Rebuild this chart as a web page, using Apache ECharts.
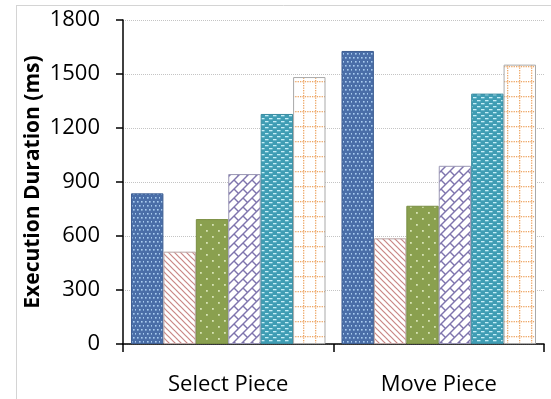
<!DOCTYPE html>
<html>
<head>
<meta charset="utf-8">
<script src="https://cdn.jsdelivr.net/npm/echarts@6/dist/echarts.min.js"></script>
<style>
  html, body { margin: 0; padding: 0; background: #fff; }
  #chart { width: 551px; height: 399px; }
</style>
</head>
<body>
<div id="chart"></div>
<script>
// Categories and measured execution durations (ms)
const categories = ['Select Piece', 'Move Piece'];
const seriesA = [837, 1628];
const seriesB = [513, 587];
const seriesC = [694, 768];
const seriesD = [944, 990];
const seriesE = [1278, 1391];
const seriesF = [1483, 1552];
const yTicks = { min: 0, max: 1800, interval: 300 };

function tile(w, h, draw) {
  const c = document.createElement('canvas');
  c.width = w; c.height = h;
  const ctx = c.getContext('2d');
  draw(ctx, w, h);
  return { image: c, repeat: 'repeat' };
}

// Blue fill with small light dots
const dotsBlue = tile(8, 8, (ctx, w, h) => {
  ctx.fillStyle = '#4a6ea8'; ctx.fillRect(0, 0, w, h);
  ctx.fillStyle = '#a9cdf0';
  [[1, 1], [5, 1], [3, 5], [7, 5]].forEach(([x, y]) => ctx.fillRect(x, y, 1.6, 1.6));
});

// Red diagonal stripes on white
const stripesRed = tile(6, 6, (ctx, w, h) => {
  ctx.fillStyle = '#fff'; ctx.fillRect(0, 0, w, h);
  ctx.strokeStyle = '#c98785'; ctx.lineWidth = 1.2;
  for (let k = -2; k <= 2; k++) {
    ctx.beginPath(); ctx.moveTo(k * 6 - 2, -2); ctx.lineTo(k * 6 + 8, 8); ctx.stroke();
  }
});

// Green fill with sparse light dots
const dotsGreen = tile(12, 12, (ctx, w, h) => {
  ctx.fillStyle = '#8aa04f'; ctx.fillRect(0, 0, w, h);
  ctx.fillStyle = '#d6e3b4';
  [[2, 2], [8, 8]].forEach(([x, y]) => ctx.fillRect(x, y, 1.8, 1.8));
});

// Purple diagonal brick weave on white
const bricksPurple = tile(18, 18, (ctx, w, h) => {
  ctx.fillStyle = '#fff'; ctx.fillRect(0, 0, w, h);
  ctx.strokeStyle = '#7f75ad'; ctx.lineWidth = 1.4;
  for (let k = -18; k <= 54; k += 9) {
    ctx.beginPath(); ctx.moveTo(k + 27, -27); ctx.lineTo(k - 27, 27); ctx.stroke();
  }
  for (let m = -2; m <= 3; m++) {
    for (let n = -2; n <= 3; n++) {
      [[0, 0], [9, 9]].forEach(([so, co]) => {
        const s0 = m * 18 + so, s1 = s0 + 9, c = n * 18 + co;
        ctx.beginPath();
        ctx.moveTo((s0 + c) / 2, (s0 - c) / 2);
        ctx.lineTo((s1 + c) / 2, (s1 - c) / 2);
        ctx.stroke();
      });
    }
  }
});

// Teal fill with light horizontal dashes
const dashesTeal = tile(8, 6, (ctx, w, h) => {
  ctx.fillStyle = '#3f9db4'; ctx.fillRect(0, 0, w, h);
  ctx.fillStyle = '#c5eef7';
  ctx.fillRect(1, 1, 3.5, 1.3);
  ctx.fillRect(5, 4, 3, 1.3);
  ctx.fillRect(0, 4, 0.5, 1.3);
});

// Orange dotted grid on white
const gridOrange = tile(12, 15, (ctx, w, h) => {
  ctx.fillStyle = '#fff'; ctx.fillRect(0, 0, w, h);
  ctx.fillStyle = '#eea766';
  for (let y = 0; y < h; y += 2.5) ctx.fillRect(3, y, 1.3, 1.3);
  for (let x = 0; x < w; x += 2.4) ctx.fillRect(x, 6, 1.3, 1.3);
});

const fills = [dotsBlue, stripesRed, dotsGreen, bricksPurple, dashesTeal, gridOrange];
const borders = ['#3f5f92', '#b9a3a3', '#7a8f43', '#9a96b4', '#3a8ca0', '#a9a9a9'];
const values = [seriesA, seriesB, seriesC, seriesD, seriesE, seriesF];

const chart = echarts.init(document.getElementById('chart'), null, { renderer: 'canvas' });
const font = '"Open Sans", "Liberation Sans", sans-serif';

chart.setOption({
  animation: false,
  backgroundColor: '#fff',
  grid: { left: 123, right: 7, top: 20, bottom: 55 },
  graphic: [
    { type: 'line', shape: { x1: 16, y1: 5.5, x2: 551, y2: 5.5 }, style: { stroke: '#d4d4d4', lineWidth: 1 } },
    { type: 'line', shape: { x1: 16.5, y1: 5, x2: 16.5, y2: 399 }, style: { stroke: '#d4d4d4', lineWidth: 1 } }
  ],
  xAxis: {
    type: 'category',
    data: categories,
    axisLine: { lineStyle: { color: '#000', width: 1.5 } },
    axisTick: { show: true, length: 8, lineStyle: { color: '#000', width: 1.5 } },
    axisLabel: { color: '#000', fontSize: 22, fontFamily: font, margin: 30 }
  },
  yAxis: {
    type: 'value',
    min: yTicks.min, max: yTicks.max, interval: yTicks.interval,
    name: 'Execution Duration (ms)',
    nameLocation: 'middle',
    nameGap: 79,
    nameMoveOverlap: false,
    nameTextStyle: { color: '#000', fontSize: 21, fontWeight: 'bold', fontFamily: font },
    axisLine: { show: true, lineStyle: { color: '#000', width: 1.5 } },
    axisTick: { show: true, length: 7, lineStyle: { color: '#000', width: 1.5 } },
    axisLabel: { color: '#000', fontSize: 22, fontFamily: font, margin: 23, formatter: v => String(v) },
    splitLine: { show: true, lineStyle: { color: '#c4c4c4', type: 'dotted', width: 1 } }
  },
  series: values.map((v, i) => ({
    type: 'bar',
    name: 'S' + (i + 1),
    data: v,
    barGap: '0%',
    barCategoryGap: '7.6%',
    itemStyle: { color: fills[i], borderColor: borders[i], borderWidth: 1 }
  }))
});
</script>
</body>
</html>
